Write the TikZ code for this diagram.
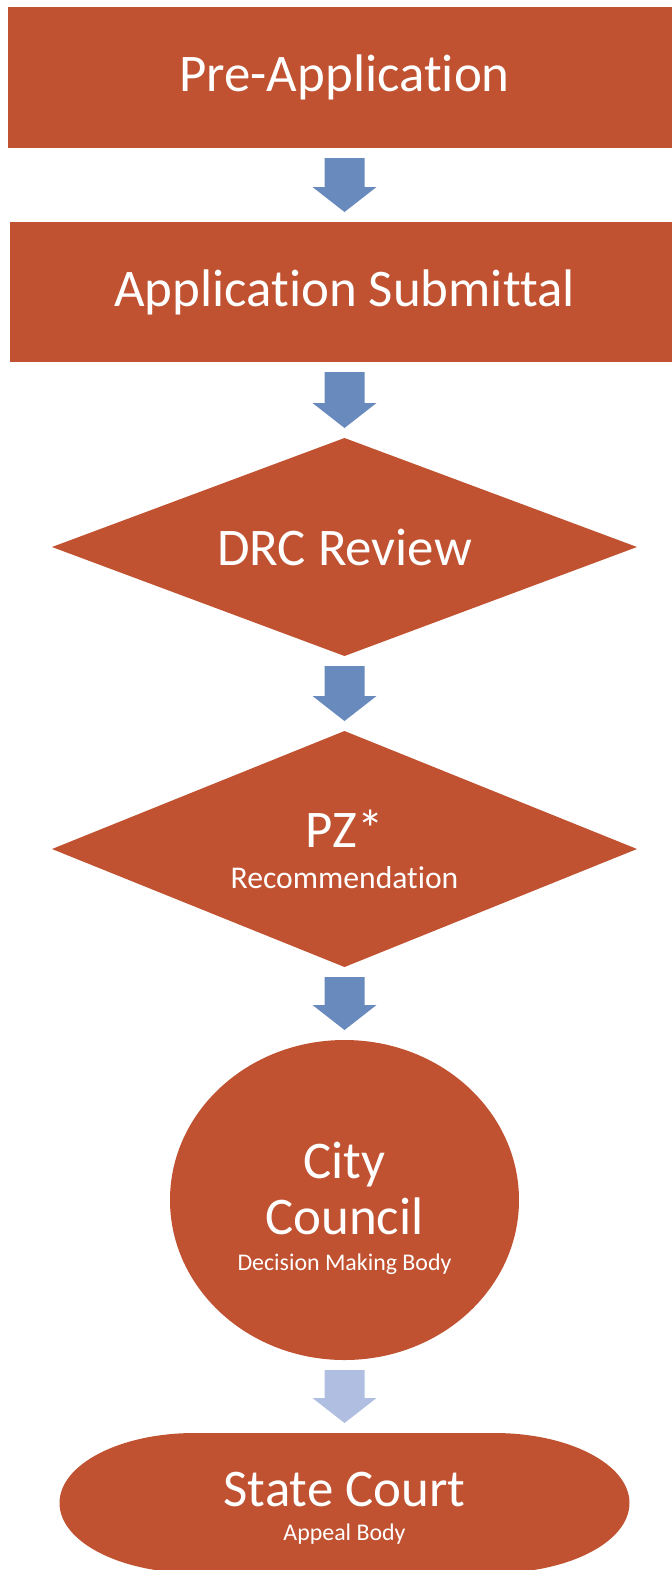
\documentclass[tikz,border=0pt]{standalone}
\usepackage{fontspec}
\setmainfont{Carlito}[Ligatures={CommonOff,ContextualOff,RareOff},RawFeature={-calt}]
\usetikzlibrary{shapes.geometric,calc,backgrounds}

\definecolor{ruggine}{RGB}{192,82,49}
\definecolor{bluefreccia}{RGB}{105,138,188}
\definecolor{azzurrofreccia}{RGB}{176,190,226}

\newcommand{\fontgrande}{\fontsize{30.1}{32}\selectfont}
\newcommand{\fontmedio}{\fontsize{18}{23.2}\selectfont}
\newcommand{\fontpiccolo}{\fontsize{13.6}{20.4}\selectfont}

% freccia a blocco fra due nodi: [colore]{da}{a}
\newcommand{\freccia}[3][bluefreccia]{%
  \fill[#1] let \p1=($(#2.south)+(0,-0.2)$), \p2=($(#3.north)+(0,0.2)$) in
    (\x1-0.4cm,\y1) -- (\x1+0.4cm,\y1) -- (\x1+0.4cm,\y2+0.5cm)
    -- (\x1+0.64cm,\y2+0.5cm) -- (\x1,\y2) -- (\x1-0.64cm,\y2+0.5cm)
    -- (\x1-0.4cm,\y2+0.5cm) -- cycle;}

\begin{document}
\begin{tikzpicture}[
  font=\fontgrande,
  casella/.style={rectangle, fill=ruggine, text=white, inner sep=0pt, outer sep=0pt, align=center},
  rombo/.style={diamond, fill=ruggine, text=white, inner sep=0pt, outer sep=0pt, align=center,
                minimum width=11.70cm},
  ellisse/.style={ellipse, fill=ruggine, inner sep=0pt, outer sep=0pt},
  pista/.style={rectangle, inner sep=0pt, outer sep=0pt},
  scritta/.style={text=white, inner sep=0pt, align=center}
]
\useasboundingbox (0,0) rectangle (13.42,-31.40);

%--------------------------------------------------------------
% Fasi iniziali
%--------------------------------------------------------------
\node[casella, minimum width=13.46cm, minimum height=2.82cm] (pre) at (6.89,-1.55) {Pre-Application};
\node[casella, minimum width=13.38cm, minimum height=2.80cm] (sub) at (6.89,-5.84) {Application Submittal};

%--------------------------------------------------------------
% Revisione e raccomandazione
%--------------------------------------------------------------
\node[rombo, minimum height=4.36cm, shape aspect=2.68] (drc) at (6.89,-10.94) {DRC Review};
\node[rombo, minimum height=4.72cm, shape aspect=2.48] (pz) at (6.89,-16.98)
  {PZ*\\[-8.8pt]\fontmedio Recommendation};

%--------------------------------------------------------------
% Decisione e appello
%--------------------------------------------------------------
\node[ellisse, minimum width=6.98cm, minimum height=6.40cm] (council) at (6.89,-24.00) {};
\node[scritta] (councillabel) at ($(council.center)+(0,-0.16)$)
  {City\\Council\\[-11.6pt]\fontpiccolo Decision Making Body};
\node[pista, minimum width=11.40cm, minimum height=2.80cm] (court) at (6.89,-30.06) {};
\fill[ruggine] ([xshift=2.7cm]court.north west) -- ([xshift=-2.7cm]court.north east)
  arc[start angle=90, end angle=-90, x radius=2.7cm, y radius=1.4cm]
  -- ([xshift=2.7cm]court.south west)
  arc[start angle=270, end angle=90, x radius=2.7cm, y radius=1.4cm] -- cycle;
\node[scritta] (courtlabel) at ($(court.center)+(0,-0.10)$)
  {State Court\\[-12.7pt]\fontpiccolo Appeal Body};

%--------------------------------------------------------------
% Frecce
%--------------------------------------------------------------
\freccia{pre}{sub}
\freccia{sub}{drc}
\freccia{drc}{pz}
\freccia{pz}{council}
\freccia[azzurrofreccia]{council}{court}

\end{tikzpicture}
\end{document}
